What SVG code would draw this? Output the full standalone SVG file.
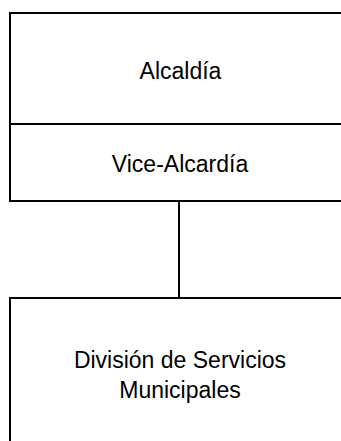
<svg xmlns="http://www.w3.org/2000/svg" width="341" height="441" viewBox="0 0 341 441">
<style>
.box{fill:#fff;stroke:#000;stroke-width:2}
.t{font-family:"Liberation Sans",Arial,sans-serif;font-size:23px;fill:#000;text-anchor:middle}
.c{stroke:#000;stroke-width:2;fill:none}
</style>
<rect width="341" height="441" fill="#fff"/>
<g id="connectors">
<line class="c" x1="179" y1="201" x2="179" y2="298"/>
</g>
<g id="alcaldia">
<rect class="box" x="10" y="13" width="345" height="111"/>
<text class="t" x="180.5" y="79">Alcaldía</text>
</g>
<g id="vice-alcaldia">
<rect class="box" x="10" y="124" width="345" height="77"/>
<text class="t" x="180" y="172">Vice-Alcardía</text>
</g>
<g id="division">
<rect class="box" x="10" y="298" width="345" height="160"/>
<text class="t" x="180" y="368">División de Servicios</text>
<text class="t" x="180" y="398">Municipales</text>
</g>
</svg>
